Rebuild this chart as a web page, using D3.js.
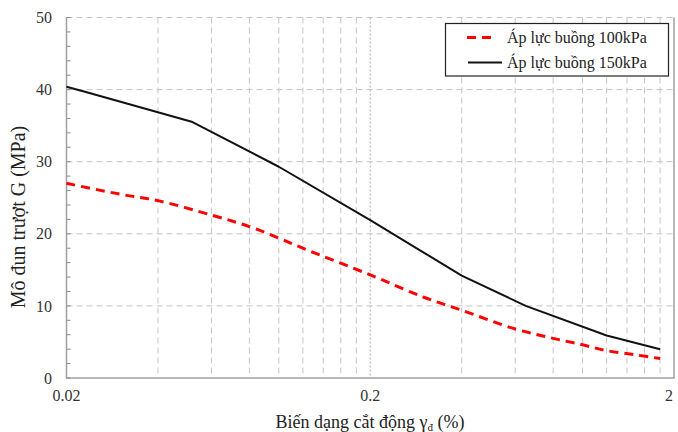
<!DOCTYPE html>
<html>
<head>
<meta charset="utf-8">
<script src="https://cdn.jsdelivr.net/npm/d3@7"></script>
<style>
  html, body { margin: 0; padding: 0; background: #fff; }
  svg { display: block; }
  text { font-family: "Times New Roman", "Liberation Serif", serif; }
</style>
</head>
<body>
<svg id="chart" width="678" height="432"></svg>
<script>
// Shear strain (%) and shear modulus (MPa) for the two cell pressures
const strain100 = [0.02, 0.03, 0.04, 0.06, 0.08, 0.1, 0.12, 0.2, 0.3, 0.4, 0.6, 0.8, 1.0, 1.2, 1.5, 1.8];
const modulus100 = [27.0, 25.5, 24.6, 22.6, 21.0, 19.4, 18.0, 14.3, 11.2, 9.4, 6.8, 5.5, 4.6, 3.8, 3.2, 2.7];
const strain150 = [0.02, 0.023, 0.052, 0.1, 0.2, 0.3, 0.4, 0.65, 1.2, 1.8];
const modulus150 = [40.4, 39.7, 35.5, 29.3, 21.9, 17.4, 14.2, 10.0, 5.9, 4.0];

const seriesNames = ["Áp lực buồng 100kPa", "Áp lực buồng 150kPa"];
const xTickValues = [0.02, 0.2, 2];
const xTickLabels = ["0.02", "0.2", "2"];
const yTickValues = [0, 10, 20, 30, 40, 50];
const yMinorTicks = d3.range(0, 51, 2);
const xMinorGrid = [0.04, 0.06, 0.08, 0.1, 0.12, 0.14, 0.16, 0.18, 0.4, 0.6, 0.8, 1.0, 1.2, 1.4, 1.6, 1.8];

const FONT = "'Times New Roman', 'Liberation Serif', serif";
const svg = d3.select("#chart");
const L = 66.5, R = 674, T = 17.5, B = 378;

const x = d3.scaleLog().domain([0.02, 2]).range([L, R]);
const y = d3.scaleLinear().domain([0, 50]).range([B, T]);

const grid = svg.append("g");
// vertical minor gridlines
grid.selectAll("line.vx").data(xMinorGrid).join("line")
  .attr("x1", d => x(d)).attr("x2", d => x(d))
  .attr("y1", T).attr("y2", B)
  .attr("stroke", "#c4c4c4").attr("stroke-width", 1)
  .attr("stroke-dasharray", "6,4");
// major vertical gridline at 0.2
grid.append("line")
  .attr("x1", x(0.2)).attr("x2", x(0.2)).attr("y1", T).attr("y2", B)
  .attr("stroke", "#a8a8a8").attr("stroke-width", 1)
  .attr("stroke-dasharray", "2,2");
// horizontal gridlines
grid.selectAll("line.hy").data(yTickValues.filter(v => v > 0)).join("line")
  .attr("x1", L).attr("x2", R)
  .attr("y1", d => y(d)).attr("y2", d => y(d))
  .attr("stroke", "#c4c4c4").attr("stroke-width", 1)
  .attr("stroke-dasharray", "6,4");

// axes frame (left, bottom, right)
svg.append("path")
  .attr("d", `M${L},${T}V${B}H${R}V${T}`)
  .attr("fill", "none").attr("stroke", "#a0a0a0").attr("stroke-width", 1.5);

// minor ticks on the y axis (inside)
svg.append("g").selectAll("line").data(yMinorTicks).join("line")
  .attr("x1", L).attr("x2", L + 4)
  .attr("y1", d => y(d)).attr("y2", d => y(d))
  .attr("stroke", "#8c8c8c").attr("stroke-width", 1);

// y tick labels
svg.append("g").selectAll("text").data(yTickValues).join("text")
  .attr("x", 52).attr("y", d => y(d)).attr("dy", "0.35em")
  .attr("text-anchor", "end").attr("font-size", 16).attr("fill", "#333")
  .attr("font-family", FONT)
  .text(d => d);

// x tick labels
svg.append("g").selectAll("text").data(xTickValues).join("text")
  .attr("x", (d, i) => i === 2 ? Math.min(x(d), 673) : x(d))
  .attr("y", 401)
  .attr("text-anchor", (d, i) => i === 2 ? "end" : "middle")
  .attr("font-size", 16).attr("fill", "#333")
  .attr("font-family", FONT)
  .text((d, i) => xTickLabels[i]);

// axis titles
svg.append("text")
  .attr("transform", "translate(25,217) rotate(-90)")
  .attr("text-anchor", "middle").attr("font-size", 20).attr("fill", "#222")
  .attr("font-family", FONT)
  .text("Mô đun trượt G (MPa)");

const xt = svg.append("text")
  .attr("x", 370).attr("y", 428)
  .attr("text-anchor", "middle").attr("font-size", 18).attr("fill", "#222")
  .attr("font-family", FONT);
xt.append("tspan").text("Biến dạng cắt động γ");
xt.append("tspan").attr("font-size", 11).attr("dy", 3).text("đ");
xt.append("tspan").attr("dy", -3).text(" (%)");

// series lines: 150kPa as straight segments, 100kPa smoothed
const lineStraight = d3.line().x(d => x(d[0])).y(d => y(d[1]));
const lineSmooth = d3.line().x(d => x(d[0])).y(d => y(d[1])).curve(d3.curveCatmullRom.alpha(0.5));
svg.append("path")
  .datum(d3.zip(strain150, modulus150))
  .attr("d", lineStraight).attr("fill", "none")
  .attr("stroke", "#111").attr("stroke-width", 2)
  .attr("stroke-linejoin", "round");
svg.append("path")
  .datum(d3.zip(strain100, modulus100))
  .attr("d", lineSmooth).attr("fill", "none")
  .attr("stroke", "#ff0000").attr("stroke-width", 3)
  .attr("stroke-dasharray", "9,6");

// legend
const lg = svg.append("g");
lg.append("rect")
  .attr("x", 445.5).attr("y", 23.5).attr("width", 223).attr("height", 52.5)
  .attr("fill", "#fff").attr("stroke", "#222").attr("stroke-width", 1.2);
lg.append("line")
  .attr("x1", 467).attr("x2", 497).attr("y1", 37.5).attr("y2", 37.5)
  .attr("stroke", "#ff0000").attr("stroke-width", 3).attr("stroke-dasharray", "9,6");
lg.append("line")
  .attr("x1", 468).attr("x2", 502).attr("y1", 62.5).attr("y2", 62.5)
  .attr("stroke", "#111").attr("stroke-width", 2);
lg.selectAll("text").data(seriesNames).join("text")
  .attr("x", 507).attr("y", (d, i) => 37.5 + i * 25).attr("dy", "0.35em")
  .attr("font-size", 16).attr("fill", "#222")
  .attr("font-family", FONT)
  .text(d => d);
</script>
</body>
</html>
